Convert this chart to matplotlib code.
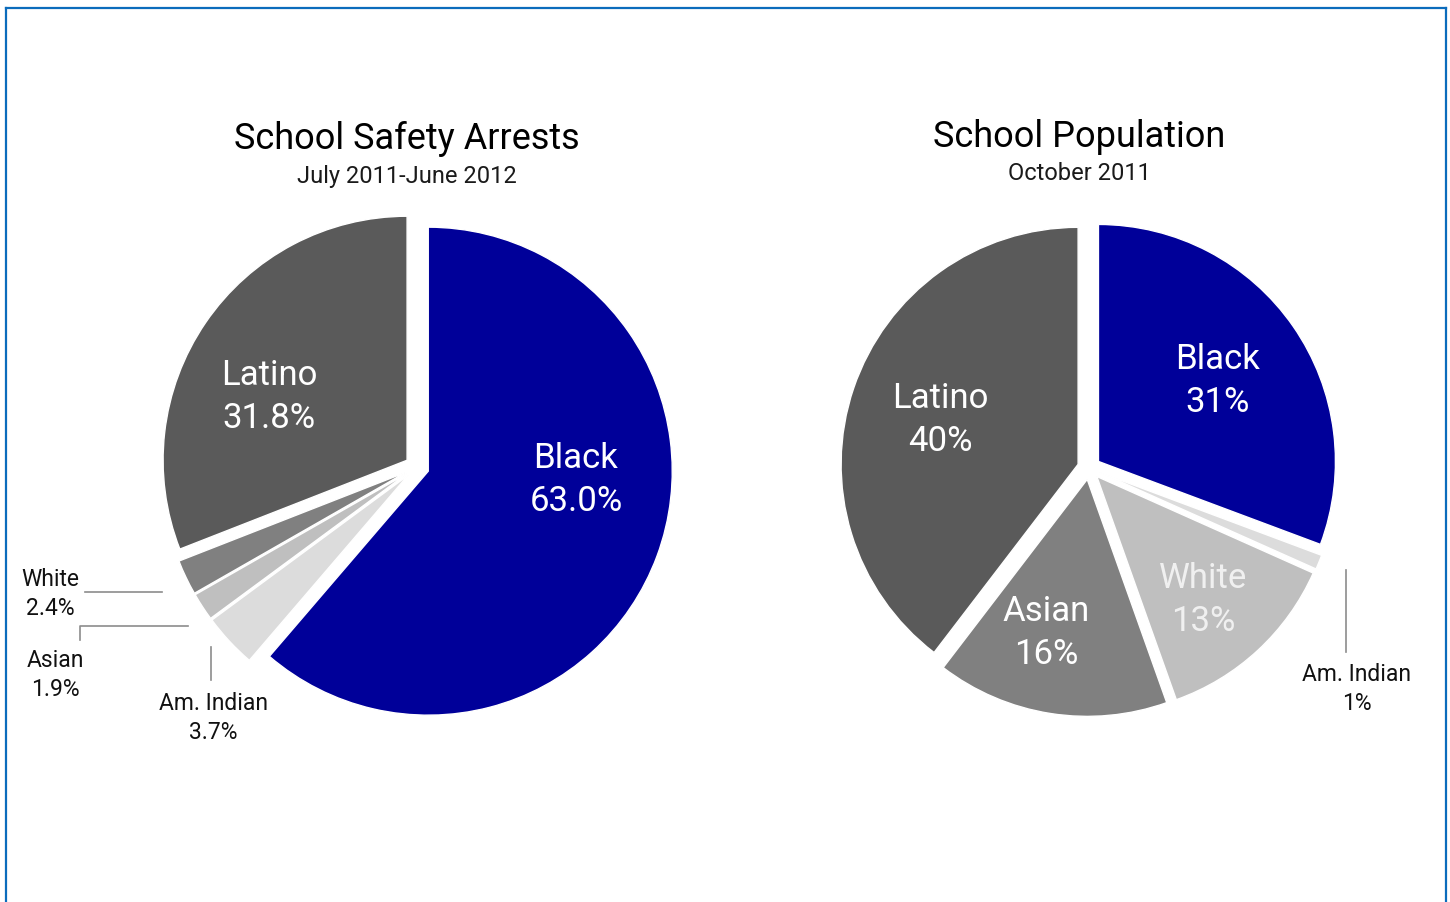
import matplotlib

matplotlib.use("Agg")

import matplotlib.pyplot as plt
from matplotlib.lines import Line2D

plt.rcParams["font.family"] = ["Roboto", "DejaVu Sans"]

# School safety arrests by race, July 2011 - June 2012 (clockwise from 12 o'clock)
arrest_groups = ["Black", "Am. Indian", "Asian", "White", "Latino"]
arrest_pct = [63.0, 3.7, 1.9, 2.4, 31.8]
arrest_fmt = "{:.1f}%"

# School population by race, October 2011 (clockwise from 12 o'clock)
enroll_groups = ["Black", "Am. Indian", "White", "Asian", "Latino"]
enroll_pct = [31, 1, 13, 16, 40]
enroll_fmt = "{:.0f}%"

slice_colors = ["#000099", "#dcdcdc", "#bfbfbf", "#808080", "#5a5a5a"]

W, H = 1450, 903


def top(y):
    """Convert a pixel row counted from the top into axes y."""
    return H - y


fig = plt.figure(figsize=(W / 100, H / 100), dpi=100)
ax = fig.add_axes([0, 0, 1, 1])

pie_kw = dict(
    colors=slice_colors,
    startangle=90,
    counterclock=False,
    wedgeprops=dict(edgecolor="white", linewidth=1),
    frame=True,
)
# explode is in data units here (axes are in pixels)
ax.pie(arrest_pct, center=(417, top(468)), radius=244,
       explode=[12] * len(arrest_pct), **pie_kw)
ax.pie(enroll_pct, center=(1089, top(469)), radius=237,
       explode=[11.5] * len(enroll_pct), **pie_kw)

ax.set_xlim(0, W)
ax.set_ylim(0, H)
ax.axis("off")


def slice_label(x, y, group, pct, fmt, color="white", size=25):
    ax.text(x, top(y), f"{group}\n{fmt.format(pct)}", ha="center", va="center",
            fontsize=size, color=color, linespacing=1.4)


def side_label(x, y, group, pct, fmt):
    ax.text(x, top(y), f"{group}\n{fmt.format(pct)}", ha="center", va="center",
            fontsize=16.5, color="#111111", linespacing=1.35)


def leader(xs, ys):
    ax.add_line(Line2D(xs, [top(v) for v in ys], color="#8c8c8c", lw=1.2))


a = dict(zip(arrest_groups, arrest_pct))
e = dict(zip(enroll_groups, enroll_pct))

# titles
ax.text(407, top(139), "School Safety Arrests", ha="center", va="center",
        fontsize=26, color="black")
ax.text(407, top(176), "July 2011-June 2012", ha="center", va="center",
        fontsize=17, color="#1a1a1a")
ax.text(1079, top(137), "School Population", ha="center", va="center",
        fontsize=26, color="black")
ax.text(1079, top(174), "October 2011", ha="center", va="center",
        fontsize=17, color="#1a1a1a")

# labels inside the large slices
slice_label(269, 397, "Latino", a["Latino"], arrest_fmt)
slice_label(576, 480, "Black", a["Black"], arrest_fmt)
slice_label(1218, 381, "Black", e["Black"], enroll_fmt)
slice_label(940, 420, "Latino", e["Latino"], enroll_fmt)
slice_label(1046, 633, "Asian", e["Asian"], enroll_fmt)
slice_label(1203, 600, "White", e["White"], enroll_fmt, color="#f0f0f0")

# small slices get labels outside with leader lines
side_label(50, 594, "White", a["White"], arrest_fmt)
leader([85, 162], [593, 593])
side_label(55, 675, "Asian", a["Asian"], arrest_fmt)
leader([80, 80, 188], [641, 627, 627])
side_label(213, 718, "Am. Indian", a["Am. Indian"], arrest_fmt)
leader([211, 211], [648, 681])
side_label(1357, 689, "Am. Indian", e["Am. Indian"], enroll_fmt)
leader([1346, 1346], [571, 653])

# blue frame around the panel
frame_kw = dict(color="#0b6cbc", lw=1.6, transform=fig.transFigure)
fig.add_artist(Line2D([6 / W, 6 / W], [0, 1 - 9 / H], **frame_kw))
fig.add_artist(Line2D([6 / W, 1446 / W], [1 - 9 / H, 1 - 9 / H], **frame_kw))
fig.add_artist(Line2D([1446 / W, 1446 / W], [0, 1 - 9 / H], **frame_kw))

fig.savefig("out.png", dpi=100, facecolor="white")
